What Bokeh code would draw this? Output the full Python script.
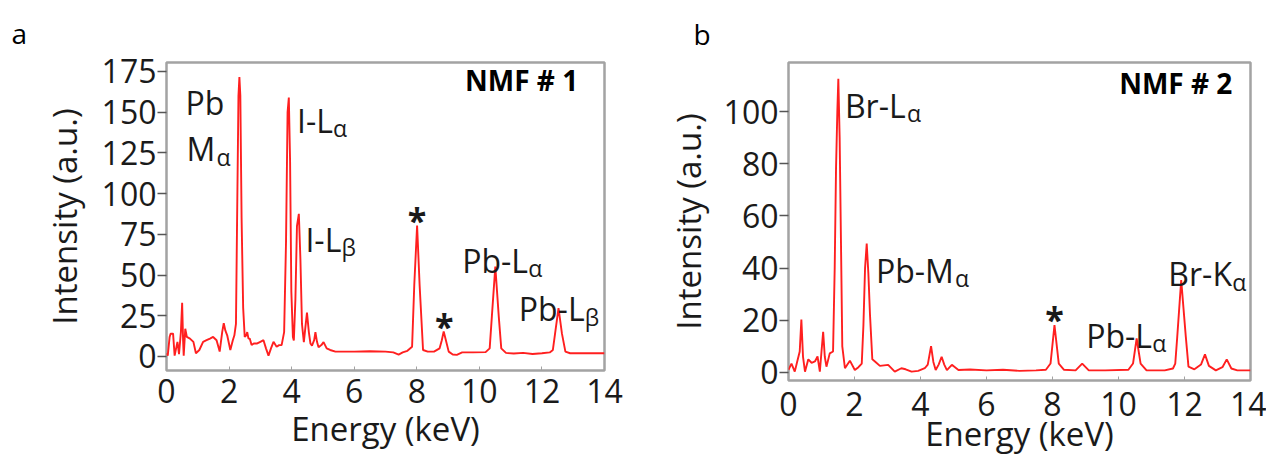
from bokeh.plotting import figure
from bokeh.layouts import row
from bokeh.models import Label, FixedTicker, Range1d, Title
from bokeh.core.properties import value
from bokeh.embed import file_html
from bokeh.resources import INLINE

# ---------------- data: panel a (NMF #1) ----------------
energy1 = [0.00, 0.04, 0.10, 0.13, 0.21, 0.26, 0.35, 0.40, 0.46, 0.50, 0.53, 0.55, 0.60, 0.65,
           0.75, 0.86, 0.94, 1.05, 1.17, 1.28, 1.39, 1.49, 1.60, 1.70, 1.78, 1.83, 1.88, 1.94,
           2.04, 2.12, 2.17, 2.22, 2.26, 2.30, 2.33, 2.36, 2.40, 2.45, 2.50, 2.55, 2.58, 2.62,
           2.66, 2.72, 2.79, 2.90, 3.00, 3.10, 3.18, 3.26, 3.34, 3.42, 3.52, 3.60, 3.68, 3.76,
           3.82, 3.87, 3.91, 3.95, 3.99, 4.04, 4.07, 4.12, 4.17, 4.23, 4.28, 4.33, 4.39, 4.44,
           4.49, 4.55, 4.60, 4.65, 4.72, 4.76, 4.81, 4.86, 4.95, 5.02, 5.12, 5.23, 5.40, 6.00,
           6.50, 7.00, 7.25, 7.42, 7.55, 7.70, 7.85, 7.92, 8.01, 8.09, 8.20, 8.35, 8.55, 8.73,
           8.80, 8.86, 8.93, 9.02, 9.15, 9.28, 9.45, 9.80, 10.20, 10.33, 10.40, 10.51, 10.62,
           10.70, 10.85, 11.10, 11.40, 11.70, 12.00, 12.25, 12.35, 12.42, 12.53, 12.64, 12.75,
           12.90, 13.40, 14.00]
intensity1 = [2, 0.5, 12, 14, 14, 0.5, 9, 1.5, 15, 33, 10, 0.5, 17, 12,
              11, 9, 2, 4, 9, 10, 11, 12, 10, 3, 15, 20.5, 16, 13,
              4, 10, 13, 20, 90, 160, 171.5, 160, 85, 30, 12, 13, 15, 11,
              11, 7, 8, 8, 9, 10, 5, 0.5, 5, 9, 6, 7, 7, 15,
              70, 150, 159, 120, 40, 12, 9.8, 35, 80, 87.6, 60, 20, 8.8, 18,
              27, 15, 8, 6.7, 10, 15, 9, 5.7, 7, 8.8, 5, 4, 3, 3,
              3.2, 3, 2.5, 1.2, 2.5, 3.5, 6, 44, 80.4, 44, 4, 3, 3, 5,
              10, 15.4, 10, 3, 1.2, 1.0, 2.5, 2.5, 2.7, 5, 24.6, 55.2, 24.6,
              5, 2.2, 1.8, 2.2, 1.5, 2, 2.5, 4, 14, 29.7, 14, 3,
              2, 2, 2]

# ---------------- data: panel b (NMF #2) ----------------
energy2 = [0.00, 0.09, 0.19, 0.27, 0.34, 0.39, 0.44, 0.50, 0.60, 0.70, 0.80, 0.88, 0.95, 1.00,
           1.05, 1.10, 1.15, 1.25, 1.35, 1.40, 1.44, 1.48, 1.51, 1.55, 1.59, 1.63, 1.71, 1.86,
           2.01, 2.12, 2.22, 2.27, 2.32, 2.37, 2.42, 2.47, 2.54, 2.62, 2.77, 3.02, 3.22, 3.42,
           3.55, 3.73, 3.93, 4.13, 4.22, 4.32, 4.39, 4.46, 4.55, 4.64, 4.72, 4.80, 4.95, 5.15,
           5.50, 6.00, 6.50, 7.00, 7.50, 7.80, 7.94, 8.06, 8.19, 8.35, 8.70, 8.90, 9.10, 9.60,
           10.30, 10.44, 10.55, 10.67, 10.85, 11.40, 11.65, 11.72, 11.78, 11.90, 12.04, 12.12,
           12.30, 12.50, 12.62, 12.74, 12.95, 13.15, 13.28, 13.42, 13.60, 14.00]
intensity2 = [1, 3.4, 0.3, 4.5, 8, 20.3, 6, 0.3, 5, 3.7, 4.2, 6.1, 0.3, 8,
              15.6, 6, 2.2, 7.3, 8, 40, 78, 100, 112.6, 90, 50, 10, 1.6, 4.5,
              0.9, 2, 3.4, 18, 40, 49.4, 38, 22, 5, 4.2, 2.5, 2.9, 0.3, 1.6,
              1.2, 0.3, 0.6, 1.6, 3, 10.1, 4, 0.9, 3, 6, 3, 0.9, 2.9, 0.9,
              1.1, 0.8, 1.0, 0.6, 0.8, 1.0, 3.4, 18.1, 3.4, 1, 0.8, 3.4, 0.8, 0.8,
              1.0, 3.4, 13, 3.4, 0.8, 0.8, 1.5, 3.4, 13.6, 35.4, 13.6, 2.2,
              1.2, 3, 6.9, 2.5, 0.8, 2, 5, 1.5, 0.8, 0.8]

x_ticks = [0, 2, 4, 6, 8, 10, 12, 14]
y_ticks1 = [0, 25, 50, 75, 100, 125, 150, 175]
y_ticks2 = [0, 20, 40, 60, 80, 100]

# annotations: (main text, subscript, energy, intensity)
labels1 = [("Pb", "", 0.61, 156), ("M", "α", 0.64, 127.5), ("I-L", "α", 4.17, 145),
           ("I-L", "β", 4.44, 72), ("Pb-L", "α", 9.45, 59), ("Pb-L", "β", 11.26, 29.3)]
stars1 = [(8.01, 88), (8.88, 23)]
labels2 = [("Br-L", "α", 1.71, 102.4), ("Pb-M", "α", 2.65, 39.2), ("Pb-L", "α", 9.02, 14.3),
           ("Br-K", "α", 11.51, 37.9)]
stars2 = [(8.06, 23)]

FONT = "Open Sans"
TXT = "#1a1a1a"
RED = "#ff1f1f"
SUB_DX = {"Pb": 40, "M": 30, "I-L": 36, "Pb-L": 66, "Br-L": 62, "Pb-M": 79, "Br-K": 64}


def make_panel(energy, intensity, yr, yticks, labels, stars, tag, letter,
               fw, fh, bl, br, bt, bb, letter_off, letter_std, x_std, x_lab_std, y_lab_std,
               tag_x, tag_y):
    p = figure(frame_width=fw, frame_height=fh, min_border_left=bl, min_border_right=br,
               min_border_top=bt, min_border_bottom=bb, x_range=Range1d(0, 14),
               y_range=Range1d(*yr), output_backend="svg", toolbar_location=None,
               background_fill_color="white", border_fill_color="white")
    p.title = Title(text=letter, align="left", vertical_align="top", offset=letter_off,
                    standoff=letter_std, text_font=FONT, text_font_size="28px",
                    text_font_style="normal", text_color="#000000")
    p.grid.visible = False
    p.outline_line_color = "#a3a3a3"
    p.outline_line_width = 2.5
    p.line(energy, intensity, line_color=RED, line_width=1.9)

    xa, ya = p.xaxis[0], p.yaxis[0]
    xa.ticker = FixedTicker(ticks=x_ticks)
    ya.ticker = FixedTicker(ticks=yticks)
    for ax in (xa, ya):
        ax.axis_line_color = None
        ax.minor_tick_line_color = None
        ax.major_label_text_font = FONT
        ax.major_label_text_font_size = "32px"
        ax.major_label_text_color = TXT
        ax.axis_label_text_font = FONT
        ax.axis_label_text_font_size = "33px"
        ax.axis_label_text_font_style = "normal"
        ax.axis_label_text_color = TXT
    xa.axis_label = "Energy (keV)"
    ya.axis_label = "Intensity (a.u.)"
    xa.major_tick_in = 4
    xa.major_tick_out = 0
    xa.major_tick_line_color = "#a3a3a3"
    xa.major_label_standoff = x_std
    xa.axis_label_standoff = x_lab_std
    ya.major_tick_in = 0
    ya.major_tick_out = 9
    ya.major_tick_line_color = "#555555"
    ya.major_tick_line_width = 1.5
    ya.major_label_standoff = 1
    ya.axis_label_standoff = y_lab_std

    mains = [l[0] for l in labels]
    lx = [l[2] for l in labels]
    ly = [l[3] for l in labels]
    p.text(lx, ly, text=mains, text_font=value(FONT), text_font_size="32px",
           text_color=TXT, text_align="left", text_baseline="alphabetic")
    sx, sy, st, so = [], [], [], []
    for m, s, x, y in labels:
        if s:
            sx.append(x); sy.append(y); st.append(s); so.append(SUB_DX[m])
    p.text(sx, sy, text=st, x_offset=so, y_offset=8, text_font=value(FONT),
           text_font_size="23px", text_color=TXT, text_align="left",
           text_baseline="alphabetic")
    p.text([s[0] for s in stars], [s[1] for s in stars], text=["*"] * len(stars),
           text_font=value(FONT), text_font_size="34px", text_font_style="bold",
           text_color=TXT, text_align="center", text_baseline="middle", y_offset=7)
    p.add_layout(Label(x=tag_x, y=tag_y, text=tag, text_font=FONT, text_font_size="28px",
                       text_font_style="bold", text_color="#000000", text_align="right"))
    return p


pa = make_panel(energy1, intensity1, (-8.6, 180.5), y_ticks1, labels1, stars1, "NMF # 1", "a",
                438, 308, 166, 58, 62, 80, -155, 18, 8, 0, 12, 13.16, 158.2)
pb = make_panel(energy2, intensity2, (-3.1, 118.8), y_ticks2, labels2, stars2, "NMF # 2", "b",
                462, 318, 125, 16, 59, 74, -95, 15, 11, -8, 10, 13.45, 103.7)

layout = row(pa, pb)
open("out.html", "w").write(file_html(layout, INLINE))
